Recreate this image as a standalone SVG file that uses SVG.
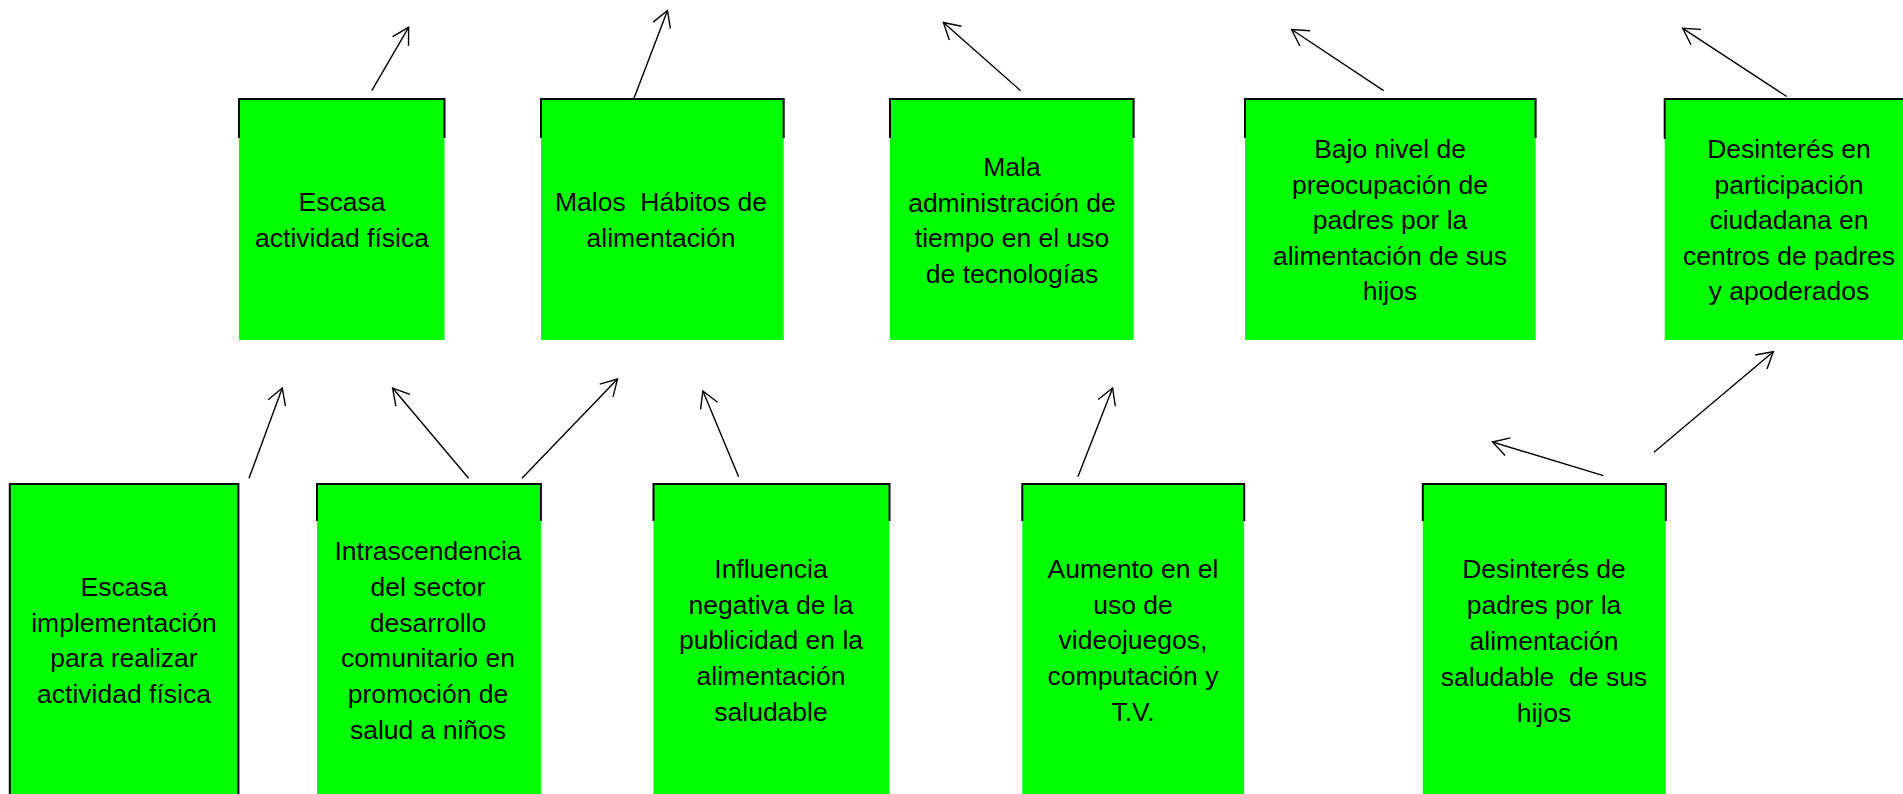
<svg xmlns="http://www.w3.org/2000/svg" width="1903" height="794" viewBox="0 0 1903 794">
<defs>
<marker id="ah" markerUnits="userSpaceOnUse" markerWidth="40" markerHeight="40" viewBox="-20 -20 40 40" refX="0" refY="0" orient="auto" overflow="visible">
<path d="M-16,-9.2 L0,0 L-16,9.2" fill="none" stroke="#000" stroke-width="1.4"/>
</marker>
<style>
.box{fill:#00ff00}
.frame{fill:none;stroke:#000;stroke-width:2}
.lbl{font-family:"Liberation Sans",Arial,sans-serif;font-size:26.5px;fill:#000;text-anchor:middle}
.conn{stroke:#000;stroke-width:1.4;fill:none;marker-end:url(#ah)}
</style>
</defs>
<rect x="0" y="0" width="1903" height="794" fill="#ffffff"/>

<g id="t1">
<rect class="box" x="239" y="99" width="205.5" height="241"/>
<path class="frame" d="M239,138 V99 H444.5 V138"/>
<text class="lbl"><tspan x="342" y="211">Escasa</tspan><tspan x="342" y="247">actividad física</tspan></text>
</g>
<g id="t2">
<rect class="box" x="541" y="99" width="242.7" height="241"/>
<path class="frame" d="M541,138 V99 H783.7 V138"/>
<text class="lbl" xml:space="preserve"><tspan x="661" y="211">Malos  Hábitos de</tspan><tspan x="661" y="247">alimentación</tspan></text>
</g>
<g id="t3">
<rect class="box" x="890" y="99" width="243.6" height="241"/>
<path class="frame" d="M890,138 V99 H1133.6 V138"/>
<text class="lbl"><tspan x="1012" y="176">Mala</tspan><tspan x="1012" y="211.5">administración de</tspan><tspan x="1012" y="247">tiempo en el uso</tspan><tspan x="1012" y="283">de tecnologías</tspan></text>
</g>
<g id="t4">
<rect class="box" x="1245" y="99" width="290.6" height="241"/>
<path class="frame" d="M1245,138 V99 H1535.6 V138"/>
<text class="lbl"><tspan x="1390" y="158">Bajo nivel de</tspan><tspan x="1390" y="193.5">preocupación de</tspan><tspan x="1390" y="229">padres por la</tspan><tspan x="1390" y="265">alimentación de sus</tspan><tspan x="1390" y="300">hijos</tspan></text>
</g>
<g id="t5">
<rect class="box" x="1664.7" y="99" width="250" height="241"/>
<path class="frame" d="M1664.7,139 V99 H1910"/>
<text class="lbl"><tspan x="1789" y="158">Desinterés en</tspan><tspan x="1789" y="193.5">participación</tspan><tspan x="1789" y="229">ciudadana en</tspan><tspan x="1789" y="265">centros de padres</tspan><tspan x="1789" y="300">y apoderados</tspan></text>
</g>

<g id="b1">
<rect class="box" x="9.8" y="484" width="228.6" height="320"/>
<path class="frame" d="M9.8,800 V484 H238.4 V800"/>
<text class="lbl"><tspan x="124" y="596">Escasa</tspan><tspan x="124" y="632">implementación</tspan><tspan x="124" y="667">para realizar</tspan><tspan x="124" y="703">actividad física</tspan></text>
</g>
<g id="b2">
<rect class="box" x="317" y="484" width="223.9" height="320"/>
<path class="frame" d="M317,521 V484 H540.9 V521"/>
<text class="lbl"><tspan x="428" y="560">Intrascendencia</tspan><tspan x="428" y="596">del sector</tspan><tspan x="428" y="631.5">desarrollo</tspan><tspan x="428" y="667">comunitario en</tspan><tspan x="428" y="703">promoción de</tspan><tspan x="428" y="739">salud a niños</tspan></text>
</g>
<g id="b3">
<rect class="box" x="653.5" y="484" width="236" height="320"/>
<path class="frame" d="M653.5,521 V484 H889.5 V521"/>
<text class="lbl"><tspan x="771" y="578">Influencia</tspan><tspan x="771" y="613.5">negativa de la</tspan><tspan x="771" y="649">publicidad en la</tspan><tspan x="771" y="685">alimentación</tspan><tspan x="771" y="720.5">saludable</tspan></text>
</g>
<g id="b4">
<rect class="box" x="1022.3" y="484" width="221.9" height="320"/>
<path class="frame" d="M1022.3,521 V484 H1244.2 V521"/>
<text class="lbl"><tspan x="1133" y="578">Aumento en el</tspan><tspan x="1133" y="613.5">uso de</tspan><tspan x="1133" y="649">videojuegos,</tspan><tspan x="1133" y="685">computación y</tspan><tspan x="1133" y="720.5">T.V.</tspan></text>
</g>
<g id="b5">
<rect class="box" x="1422.8" y="484" width="243" height="320"/>
<path class="frame" d="M1422.8,521 V484 H1665.8 V521"/>
<text class="lbl" xml:space="preserve"><tspan x="1544" y="578">Desinterés de</tspan><tspan x="1544" y="614">padres por la</tspan><tspan x="1544" y="650">alimentación</tspan><tspan x="1544" y="686">saludable  de sus</tspan><tspan x="1544" y="721.5">hijos</tspan></text>
</g>

<g id="connectors">
<line class="conn" x1="371.8" y1="90.7" x2="408.6" y2="27.3"/>
<line class="conn" x1="633.6" y1="99.3" x2="667.5" y2="10.5"/>
<line class="conn" x1="1020.6" y1="90.7" x2="943.4" y2="22.5"/>
<line class="conn" x1="1383.6" y1="90.7" x2="1291.6" y2="29.5"/>
<line class="conn" x1="1786.7" y1="96.5" x2="1682.7" y2="28.3"/>
<line class="conn" x1="249" y1="478.3" x2="282.3" y2="388"/>
<line class="conn" x1="468.6" y1="478.3" x2="392.6" y2="388"/>
<line class="conn" x1="522" y1="478.3" x2="617.5" y2="379"/>
<line class="conn" x1="738.6" y1="476.7" x2="702.9" y2="391"/>
<line class="conn" x1="1077.9" y1="476.7" x2="1112.6" y2="388"/>
<line class="conn" x1="1603.3" y1="475.7" x2="1492.5" y2="442"/>
<line class="conn" x1="1654" y1="452.3" x2="1773.3" y2="351.7"/>
</g>
</svg>
